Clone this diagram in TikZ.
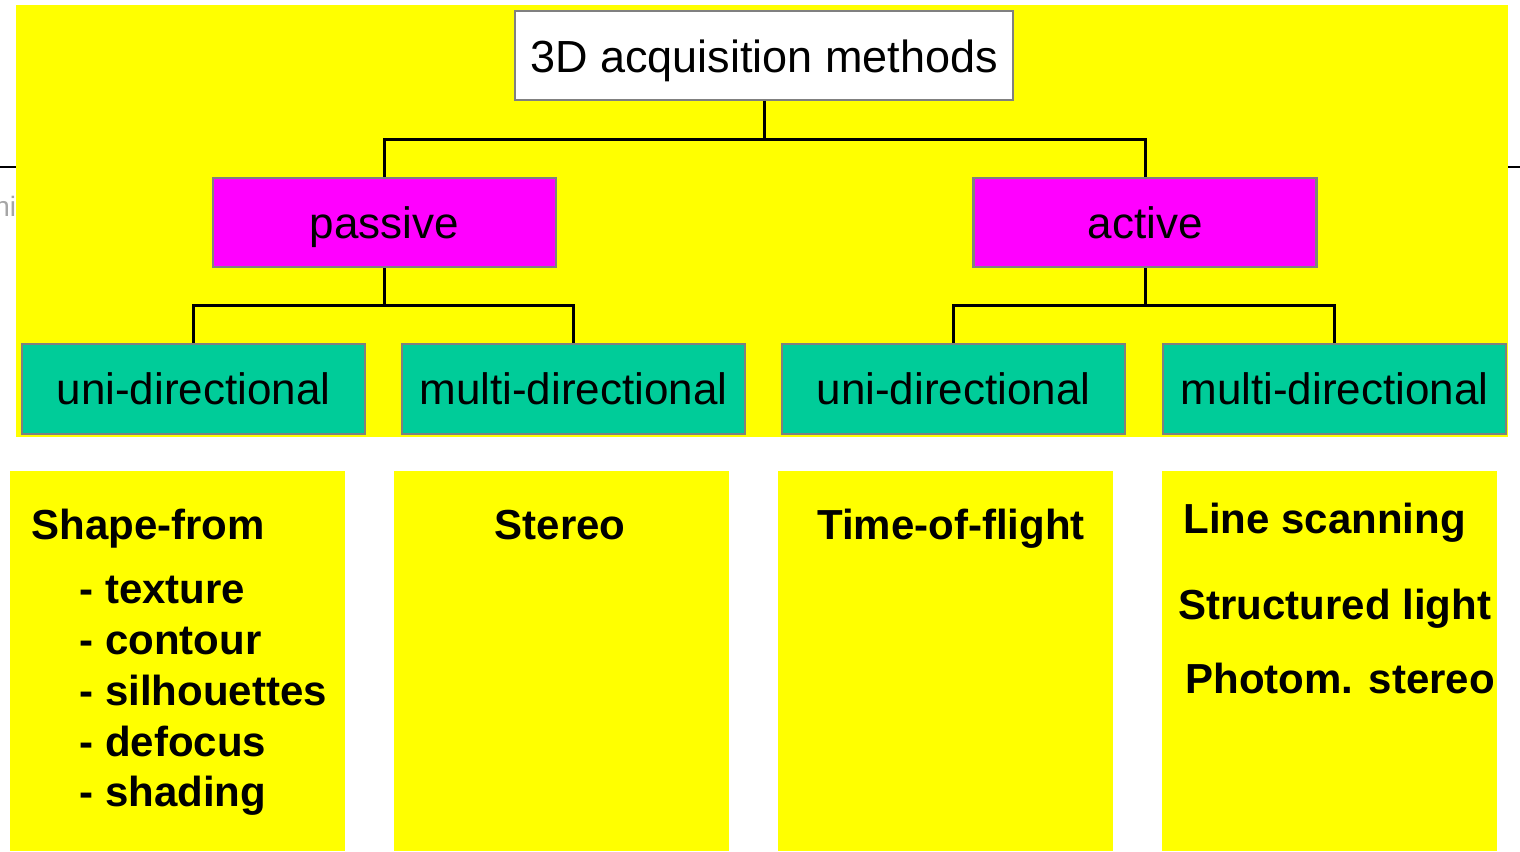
\documentclass[tikz,border=0pt]{standalone}
\usepackage{fontspec}
\setmainfont{Liberation Sans}
\definecolor{ylw}{RGB}{255,255,0}
\definecolor{mag}{RGB}{255,0,255}
\definecolor{grn}{RGB}{0,204,153}
\definecolor{bord}{RGB}{128,128,128}
\begin{document}
\begin{tikzpicture}[x=0.5pt,y=-0.5pt,
  box/.style={rectangle,draw=bord,line width=1.4pt,inner sep=0pt,font=\fontsize{22}{26}\selectfont,minimum height=44.5pt,text height=15.75pt,text depth=0pt},
  topbox/.style={box,fill=white,minimum width=249pt,font=\fontsize{22.5}{26}\selectfont,text height=16.5pt},
  modebox/.style={box,fill=mag,minimum width=171.5pt},
  dirbox/.style={box,fill=grn,minimum width=171.5pt,minimum height=45pt},
  listbox/.style={rectangle,fill=ylw,inner sep=0pt,minimum width=167.5pt,minimum height=190pt},
  item/.style={font=\fontsize{21}{25}\selectfont\bfseries,inner sep=0pt},
  conn/.style={black,line width=1.5pt}]
\useasboundingbox (0,0) rectangle (1520,851);
% slide fragments
\node[anchor=base west,inner sep=0pt,text=gray!70,font=\fontsize{14}{16}\selectfont] (frag) at (-6,216) {hi};
\coordinate (la) at (0,167); \coordinate (lb) at (16,167);
\coordinate (ra) at (1508,167); \coordinate (rb) at (1520,167);
\draw[line width=1pt] (la) -- (lb);
\draw[line width=1pt] (ra) -- (rb);
% yellow background of tree
\fill[ylw] (16,5) rectangle (1508,437);
% tree nodes
\node[topbox] (top) at (764,55.5) {3D acquisition methods};
\node[modebox] (passive) at (384.5,222.5) {passive};
\node[modebox] (active) at (1145,222.5) {active};
\node[dirbox] (pu) at (193.5,389) {uni-directional};
\node[dirbox] (pm) at (573.5,389) {multi-directional};
\node[dirbox] (au) at (953.5,389) {uni-directional};
\node[dirbox] (am) at (1334.5,389) {multi-directional};
% connectors
\coordinate (b1) at (764,139);
\coordinate (b2) at (384.5,305);
\coordinate (b3) at (1145,305);
\draw[conn] (top.south) -- (b1);
\draw[conn] (b1) -| (passive.north);
\draw[conn] (b1) -| (active.north);
\draw[conn] (passive.south) -- (b2);
\draw[conn] (b2) -| (pu.north);
\draw[conn] (b2) -| (pm.north);
\draw[conn] (active.south) -- (b3);
\draw[conn] (b3) -| (au.north);
\draw[conn] (b3) -| (am.north);
% lower boxes
\node[listbox] (l1) at (177.5,661) {};
\node[listbox] (l2) at (561.5,661) {};
\node[listbox] (l3) at (945.5,661) {};
\node[listbox] (l4) at (1329.5,661) {};
\node[item,anchor=base west] (t1) at (31,539) {Shape-from};
\node[item,anchor=base west] (t2) at (79,603) {- texture};
\node[item,anchor=base west] (t3) at (79,654) {- contour};
\node[item,anchor=base west] (t4) at (79,705) {- silhouettes};
\node[item,anchor=base west] (t5) at (79,756) {- defocus};
\node[item,anchor=base west] (t6) at (79,806) {- shading};
\node[item,anchor=base] (s1) at (560,539) {Stereo};
\node[item,anchor=base west] (f1) at (817,539) {Time-of-flight};
\node[item,anchor=base west] (r1) at (1183,533) {Line scanning};
\node[item,anchor=base west] (r2) at (1178,619) {Structured light};
\node[item,anchor=base west] (r3) at (1185,693) {Photom. stereo};
\end{tikzpicture}
\end{document}
